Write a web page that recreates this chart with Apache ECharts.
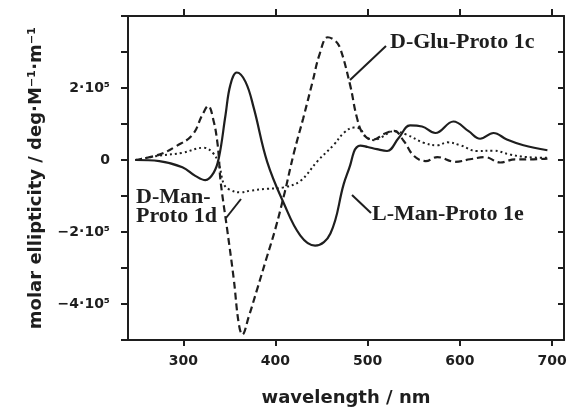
<!DOCTYPE html>
<html>
<head>
<meta charset="utf-8">
<script src="https://cdn.jsdelivr.net/npm/echarts@6.0.0/dist/echarts.min.js"></script>
<style>
html,body{margin:0;padding:0;background:#fff;}
#chart{width:570px;height:412px;}
</style>
</head>
<body>
<div id="chart"></div>
<script>
// wavelength (nm) and molar ellipticity (units of 1e5 deg·M^-1·m^-1)
var lManWl  = [248,274,299,313,324,333,338.6,345.8,351,358,367.5,376.5,391,409,427,443,459.6,474,481,485,488,492,500,510,521,533.6,546,559,573.4,593,609.5,622,636.5,651,669,695];
var lManVal = [0,-0.03,-0.2,-0.44,-0.56,-0.35,0.06,1.25,2.08,2.43,2.17,1.44,-0.05,-1.2,-2.1,-2.38,-2.04,-0.67,-0.15,0.22,0.35,0.4,0.36,0.3,0.25,0.61,0.96,0.93,0.75,1.07,0.8,0.59,0.75,0.57,0.41,0.27];

var dGluWl  = [248,274,292,310,320.6,327,333,336.8,338.6,340.4,347.7,354.8,360,364,371,380,390,400,410,420,430,440,448,456.7,465,470.4,481,488.5,495.7,506.5,517.4,528.6,539.4,550.3,563,575.6,595,611,627.5,643.8,660,680,695];
var dGluVal = [0,0.15,0.38,0.7,1.25,1.5,1.07,0.52,0.06,-0.58,-1.95,-3.32,-4.52,-4.85,-4.35,-3.6,-2.75,-1.9,-0.9,0.2,1.15,2.15,2.95,3.41,3.31,3.09,2.08,1.16,0.7,0.57,0.72,0.81,0.52,0.11,-0.03,0.08,-0.05,0.02,0.08,-0.07,0.02,0.02,0.04];

var dManWl  = [248,274,299,322,332,338.6,344,350,362,373,391,409,427,445.6,463.6,474,485,490,499,507,514,528.6,542.7,560.7,575.6,586.5,600.4,618.5,636.5,654.6,672.7,695];
var dManVal = [0,0.12,0.2,0.34,0.2,-0.12,-0.67,-0.82,-0.9,-0.85,-0.8,-0.76,-0.58,-0.03,0.43,0.75,0.9,0.89,0.62,0.55,0.62,0.8,0.7,0.48,0.41,0.49,0.41,0.25,0.26,0.15,0.08,0.06];

var xTicks = [300,400,500,600,700];
var yTickValues = [-4,-2,0,2];
var yTickLabels = ['−4·10⁵','−2·10⁵','0','2·10⁵'];
var SCALE = 1e5;

function pairs(wl, val){ return wl.map(function(w,i){ return [w, val[i]*SCALE]; }); }

var ink = '#1e1e1e';
var chart = echarts.init(document.getElementById('chart'), null, {renderer:'canvas'});
var axisFont = {fontFamily:'DejaVu Sans', fontWeight:'bold', fontSize:14, color:ink};

chart.setOption({
  animation:false,
  backgroundColor:'#fff',
  grid:{left:128, top:16, right:6, bottom:69},
  xAxis:[{
    type:'value', min:240, max:713, position:'bottom',
    name:'wavelength / nm', nameLocation:'middle', nameGap:49,
    nameTextStyle:{fontFamily:'DejaVu Sans', fontWeight:'bold', fontSize:18, color:ink},
    axisLine:{show:true, onZero:false, lineStyle:{color:ink, width:2}},
    axisTick:{show:true, inside:false, length:6, customValues:xTicks, lineStyle:{color:ink, width:2}},
    axisLabel:Object.assign({margin:14, customValues:xTicks}, axisFont),
    splitLine:{show:false}
  },{
    type:'value', min:240, max:713, position:'top',
    axisLine:{show:true, onZero:false, lineStyle:{color:ink, width:2}},
    axisTick:{show:true, inside:false, length:7, customValues:xTicks, lineStyle:{color:ink, width:2}},
    axisLabel:{show:false},
    splitLine:{show:false}
  }],
  yAxis:[{
    type:'value', min:-5*SCALE, max:4*SCALE, interval:SCALE, position:'left',
    name:'molar ellipticity / deg·M⁻¹·m⁻¹', nameLocation:'middle', nameGap:83,
    nameTextStyle:{fontFamily:'DejaVu Sans', fontWeight:'bold', fontSize:18, color:ink},
    axisLine:{show:true, onZero:false, lineStyle:{color:ink, width:2}},
    axisTick:{show:true, inside:false, length:7, lineStyle:{color:ink, width:2}},
    axisLabel:Object.assign({margin:18, formatter:function(v){
      var k = Math.round(v/SCALE);
      var i = yTickValues.indexOf(k);
      return i >= 0 ? yTickLabels[i] : '';
    }}, axisFont),
    splitLine:{show:false}
  },{
    type:'value', min:-5*SCALE, max:4*SCALE, interval:SCALE, position:'right',
    axisLine:{show:true, onZero:false, lineStyle:{color:ink, width:2}},
    axisTick:{show:true, inside:true, length:6, lineStyle:{color:ink, width:2}},
    axisLabel:{show:false},
    splitLine:{show:false}
  }],
  series:[{
    name:'L-Man-Proto 1e', type:'line', xAxisIndex:0, yAxisIndex:0,
    data:pairs(lManWl,lManVal), showSymbol:false, smooth:0.4,
    lineStyle:{color:ink, width:2.2, type:'solid'}
  },{
    name:'D-Glu-Proto 1c', type:'line', xAxisIndex:0, yAxisIndex:0,
    data:pairs(dGluWl,dGluVal), showSymbol:false, smooth:0.4,
    lineStyle:{color:ink, width:2.2, type:[7,4]}
  },{
    name:'D-Man-Proto 1d', type:'line', xAxisIndex:0, yAxisIndex:0,
    data:pairs(dManWl,dManVal), showSymbol:false, smooth:0.4,
    lineStyle:{color:ink, width:2, type:[2,3]}
  }],
  graphic:[
    {type:'text', left:390, top:31, style:{text:'D-Glu-Proto 1c', font:'bold 22px "Liberation Serif"', fill:ink}},
    {type:'line', shape:{x1:350,y1:80,x2:386,y2:46}, style:{stroke:ink, lineWidth:2}},
    {type:'text', left:372, top:203, style:{text:'L-Man-Proto 1e', font:'bold 22px "Liberation Serif"', fill:ink}},
    {type:'line', shape:{x1:352,y1:195,x2:371,y2:213}, style:{stroke:ink, lineWidth:2}},
    {type:'text', left:136, top:186, style:{text:'D-Man-', font:'bold 22px "Liberation Serif"', fill:ink}},
    {type:'text', left:136, top:205, style:{text:'Proto 1d', font:'bold 22px "Liberation Serif"', fill:ink}},
    {type:'line', shape:{x1:226,y1:218,x2:241,y2:199}, style:{stroke:ink, lineWidth:2}}
  ]
});
</script>
</body>
</html>
